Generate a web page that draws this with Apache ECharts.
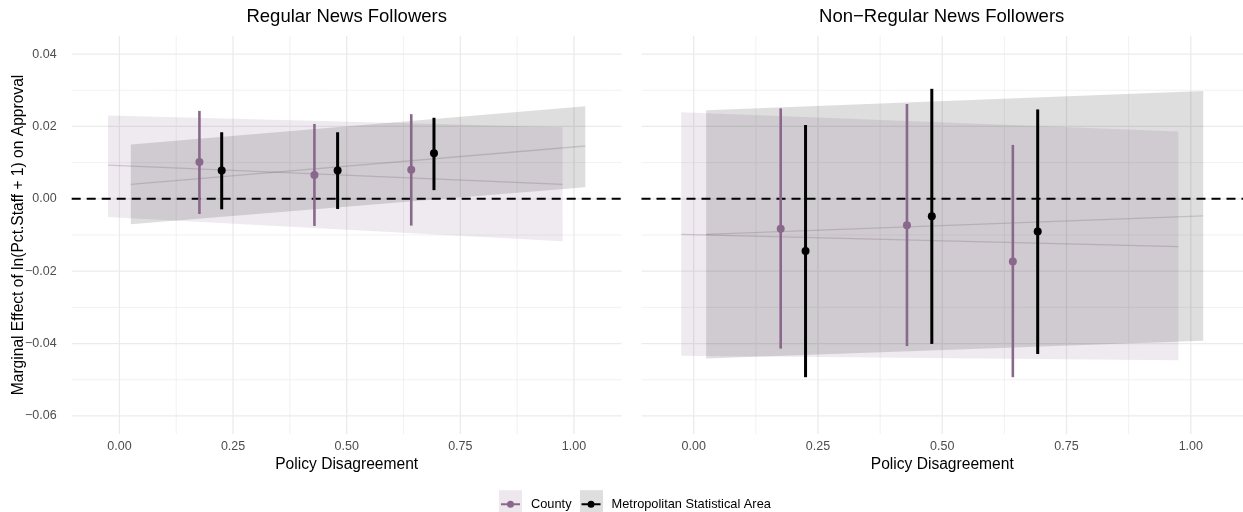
<!DOCTYPE html>
<html><head><meta charset="utf-8">
<script src="https://cdn.jsdelivr.net/npm/echarts@6/dist/echarts.min.js"></script>
<style>html,body{margin:0;padding:0;background:#fff}#c{width:1243px;height:512px}</style>
</head><body><div id="c"></div>
<script>
// ---------- data ----------
const panelTitles = ['Regular News Followers', 'Non\u2212Regular News Followers'];
const seriesNames = ['County', 'Metropolitan Statistical Area'];
const xTitle = 'Policy Disagreement';
const yTitle = 'Marginal Effect of ln(Pct.Staff + 1) on Approval';
const xTicks = [0, 0.25, 0.5, 0.75, 1];
const xMinor = [0.125, 0.375, 0.625, 0.875];
const yTicks = [-0.06, -0.04, -0.02, 0, 0.02, 0.04];
const yMinor = [-0.05, -0.03, -0.01, 0.01, 0.03];

// ribbon (fitted line + CI) end points
const countyRibbonX = [-0.025, 0.975];
const msaRibbonX = [0.025, 1.025];

// Regular news followers
const regCountyFit = [0.0093, 0.0040];
const regCountyLow = [-0.0050, -0.0117];
const regCountyHigh = [0.0230, 0.0198];
const regMsaFit = [0.0040, 0.0146];
const regMsaLow = [-0.0070, 0.0032];
const regMsaHigh = [0.0150, 0.0256];
const regCountyX = [0.176, 0.429, 0.642];
const regCountyEst = [0.0102, 0.0066, 0.0080];
const regCountyLo = [-0.0042, -0.0075, -0.0074];
const regCountyHi = [0.0243, 0.0207, 0.0234];
const regMsaX = [0.225, 0.480, 0.692];
const regMsaEst = [0.0078, 0.0078, 0.0126];
const regMsaLo = [-0.0029, -0.0028, 0.0024];
const regMsaHi = [0.0184, 0.0184, 0.0224];

// Non-regular news followers
const nonCountyFit = [-0.0098, -0.0132];
const nonCountyLow = [-0.0434, -0.0446];
const nonCountyHigh = [0.0239, 0.0186];
const nonMsaFit = [-0.0098, -0.0047];
const nonMsaLow = [-0.0441, -0.0392];
const nonMsaHigh = [0.0245, 0.0298];
const nonCountyX = [0.175, 0.429, 0.642];
const nonCountyEst = [-0.0083, -0.0073, -0.0173];
const nonCountyLo = [-0.0414, -0.0407, -0.0493];
const nonCountyHi = [0.0250, 0.0262, 0.0149];
const nonMsaX = [0.225, 0.479, 0.692];
const nonMsaEst = [-0.0144, -0.0048, -0.0090];
const nonMsaLo = [-0.0493, -0.0401, -0.0429];
const nonMsaHi = [0.0204, 0.0304, 0.0247];

// ---------- styling ----------
const FONT = 'Liberation Sans';
const PURPLE = '#8A688D';
const BLACK = '#000000';
const COUNTY_FILL = 'rgba(137,103,140,0.14)';
const MSA_FILL = 'rgba(0,0,0,0.13)';
const COUNTY_LINE = 'rgba(137,103,140,0.30)';
const MSA_LINE = 'rgba(0,0,0,0.13)';

const fmt = v => (v < 0 ? '\u2212' : '') + Math.abs(v).toFixed(2);

const grids = [
  {left: 71.7, top: 36, width: 550, height: 398},
  {left: 641.5, top: 36, width: 605, height: 398}
];

const xAxes = grids.map((g, i) => ({
  type: 'value', gridIndex: i, min: -0.105, max: 1.105,
  splitLine: {show: false}, axisLine: {show: false}, axisTick: {show: false},
  axisLabel: {customValues: xTicks, formatter: fmt, color: '#4D4D4D', fontSize: 12.5, fontFamily: FONT, margin: 6},
  name: xTitle, nameLocation: 'middle', nameGap: 22.5, nameMoveOverlap: false,
  nameTextStyle: {color: '#000', fontSize: 15.6, fontFamily: FONT}
}));
const yAxes = grids.map((g, i) => ({
  type: 'value', gridIndex: i, min: -0.065, max: 0.045,
  splitLine: {show: false}, axisLine: {show: false}, axisTick: {show: false},
  axisLabel: i === 0 ? {customValues: yTicks, formatter: fmt, color: '#4D4D4D', fontSize: 12.5, fontFamily: FONT, margin: 15} : {show: false},
  name: i === 0 ? yTitle : '', nameLocation: 'middle', nameGap: 45, nameMoveOverlap: false,
  nameTextStyle: {color: '#000', fontSize: 15.6, fontFamily: FONT}
}));

function gridLines(gi) {
  const data = [];
  yTicks.forEach(v => data.push([0, v, 0]));
  yMinor.forEach(v => data.push([0, v, 1]));
  xTicks.forEach(v => data.push([v, 0, 2]));
  xMinor.forEach(v => data.push([v, 0, 3]));
  return {
    type: 'custom', xAxisIndex: gi, yAxisIndex: gi, z: 1, silent: true, data,
    renderItem(params, api) {
      const cs = params.coordSys;
      const t = api.value(2);
      const style = {stroke: '#EBEBEB', lineWidth: (t === 0 || t === 2) ? 1.3 : 0.7};
      if (t < 2) {
        const y = api.coord([0, api.value(1)])[1];
        return {type: 'line', shape: {x1: cs.x, y1: y, x2: cs.x + cs.width, y2: y}, style};
      }
      const x = api.coord([api.value(0), 0])[0];
      return {type: 'line', shape: {x1: x, y1: cs.y, x2: x, y2: cs.y + cs.height}, style};
    }
  };
}

function zeroLine(gi) {
  return {
    type: 'custom', xAxisIndex: gi, yAxisIndex: gi, z: 4, silent: true, data: [[0, 0]],
    renderItem(params, api) {
      const cs = params.coordSys;
      const y = api.coord([0, 0])[1];
      return {type: 'line', shape: {x1: cs.x, y1: y, x2: cs.x + cs.width, y2: y},
        style: {stroke: '#000', lineWidth: 2, lineDash: [9, 6]}};
    }
  };
}

function ribbon(gi, name, xs, lo, hi, fill) {
  return {
    type: 'custom', name, xAxisIndex: gi, yAxisIndex: gi, z: 2, silent: true,
    data: xs.map((x, i) => [x, lo[i], hi[i]]),
    renderItem(params, api) {
      if (params.dataIndex !== 0) return;
      const pts = [];
      xs.forEach((x, i) => pts.push(api.coord([x, hi[i]])));
      for (let i = xs.length - 1; i >= 0; i--) pts.push(api.coord([xs[i], lo[i]]));
      return {type: 'polygon', shape: {points: pts}, style: {fill}};
    }
  };
}

function fitLine(gi, name, xs, fit, color) {
  return {
    type: 'line', name, xAxisIndex: gi, yAxisIndex: gi, z: 3, silent: true,
    showSymbol: false, data: xs.map((x, i) => [x, fit[i]]),
    lineStyle: {color, width: 1.3}, itemStyle: {color}
  };
}

function errorBars(gi, name, xs, lo, hi, color, w) {
  return {
    type: 'custom', name, xAxisIndex: gi, yAxisIndex: gi, z: 5, silent: true,
    data: xs.map((x, i) => [x, lo[i], hi[i]]),
    itemStyle: {color},
    renderItem(params, api) {
      const x = api.value(0);
      const p1 = api.coord([x, api.value(1)]);
      const p2 = api.coord([x, api.value(2)]);
      return {type: 'line', shape: {x1: p1[0], y1: p1[1], x2: p2[0], y2: p2[1]},
        style: {stroke: color, lineWidth: w, lineCap: 'butt'}};
    }
  };
}

function points(gi, name, xs, est, color) {
  return {
    type: 'scatter', name, xAxisIndex: gi, yAxisIndex: gi, z: 6, silent: true,
    symbol: 'circle', symbolSize: 8, data: xs.map((x, i) => [x, est[i]]),
    itemStyle: {color, opacity: 1}
  };
}

const series = [
  gridLines(0), gridLines(1),
  ribbon(0, seriesNames[0], countyRibbonX, regCountyLow, regCountyHigh, COUNTY_FILL),
  ribbon(0, seriesNames[1], msaRibbonX, regMsaLow, regMsaHigh, MSA_FILL),
  ribbon(1, seriesNames[0], countyRibbonX, nonCountyLow, nonCountyHigh, COUNTY_FILL),
  ribbon(1, seriesNames[1], msaRibbonX, nonMsaLow, nonMsaHigh, MSA_FILL),
  fitLine(0, seriesNames[0], countyRibbonX, regCountyFit, COUNTY_LINE),
  fitLine(0, seriesNames[1], msaRibbonX, regMsaFit, MSA_LINE),
  fitLine(1, seriesNames[0], countyRibbonX, nonCountyFit, COUNTY_LINE),
  fitLine(1, seriesNames[1], msaRibbonX, nonMsaFit, MSA_LINE),
  zeroLine(0), zeroLine(1),
  errorBars(0, seriesNames[0], regCountyX, regCountyLo, regCountyHi, PURPLE, 2.6),
  errorBars(0, seriesNames[1], regMsaX, regMsaLo, regMsaHi, BLACK, 3),
  errorBars(1, seriesNames[0], nonCountyX, nonCountyLo, nonCountyHi, PURPLE, 2.6),
  errorBars(1, seriesNames[1], nonMsaX, nonMsaLo, nonMsaHi, BLACK, 3),
  points(0, seriesNames[0], regCountyX, regCountyEst, PURPLE),
  points(0, seriesNames[1], regMsaX, regMsaEst, BLACK),
  points(1, seriesNames[0], nonCountyX, nonCountyEst, PURPLE),
  points(1, seriesNames[1], nonMsaX, nonMsaEst, BLACK)
];

// legend key: solid dot with a bar on each side (no overlapping sub-paths)
const ICON = 'path://M6,4 A3.5,3.5 0 1,1 13,4 A3.5,3.5 0 1,1 6,4 Z M0,3 L6.2,3 L6.2,5 L0,5 Z M12.8,3 L19,3 L19,5 L12.8,5 Z';

const option = {
  animation: false,
  backgroundColor: '#fff',
  textStyle: {fontFamily: FONT},
  grid: grids,
  xAxis: xAxes,
  yAxis: yAxes,
  legend: {
    left: 501, top: 497.7, padding: 0, itemGap: 10, itemWidth: 19, itemHeight: 8,
    selectedMode: false,
    textStyle: {fontSize: 12.8, color: '#000', fontFamily: FONT, padding: [0, 0, 0, 6]},
    data: [
      {name: seriesNames[0], icon: ICON, itemStyle: {color: PURPLE}},
      {name: seriesNames[1], icon: ICON, itemStyle: {color: BLACK}}
    ]
  },
  graphic: [
    {type: 'rect', z: 0, silent: true, shape: {x: 499, y: 490.2, width: 23, height: 23}, style: {fill: '#EEE8EE'}},
    {type: 'rect', z: 0, silent: true, shape: {x: 580, y: 490.2, width: 23, height: 23}, style: {fill: '#DEDEDE'}},
    {type: 'text', silent: true, x: 346.7, y: 17, style: {text: panelTitles[0], fontSize: 18.5, fontFamily: FONT, fill: '#000', textAlign: 'center', textVerticalAlign: 'middle'}},
    {type: 'text', silent: true, x: 941.7, y: 17, style: {text: panelTitles[1], fontSize: 18.5, fontFamily: FONT, fill: '#000', textAlign: 'center', textVerticalAlign: 'middle'}}
  ],
  series
};

const chart = echarts.init(document.getElementById('c'), null, {renderer: 'canvas'});
chart.setOption(option);
</script>
</body></html>
